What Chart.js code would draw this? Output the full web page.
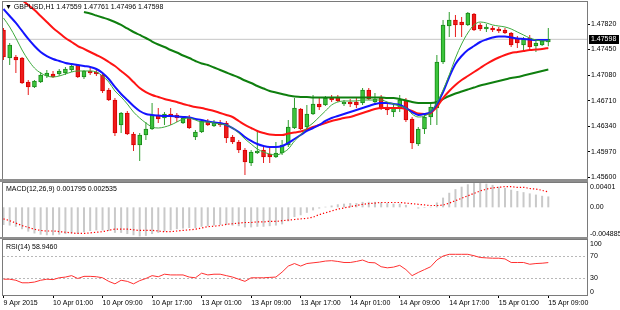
<!DOCTYPE html>
<html>
<head>
<meta charset="utf-8">
<script src="https://cdn.jsdelivr.net/npm/chart.js@4.4.1/dist/chart.umd.min.js"></script>
<style>
html,body{margin:0;padding:0;background:#fff;}
#wrap{position:relative;width:620px;height:310px;overflow:hidden;background:#fff;}
canvas{position:absolute;left:0;display:block;}
.t{position:absolute;font-family:"Liberation Sans",Arial,sans-serif;font-size:7px;line-height:8px;color:#000;white-space:nowrap;z-index:3;}
.sep{position:absolute;left:0;width:588px;background:#8e8e8e;z-index:2;}
</style>
</head>
<body>
<div id="wrap">
<canvas id="cMain" width="620" height="181" style="top:0;width:620px;height:181px"></canvas>
<canvas id="cMacd" width="620" height="56" style="top:182px;width:620px;height:56px"></canvas>
<canvas id="cRsi" width="620" height="72" style="top:238px;width:620px;height:72px"></canvas>
<div class="sep" style="top:179px;height:3px"></div>
<div class="sep" style="top:237px;height:2px"></div>
<div class="t" id="tMain" style="left:5px;top:3px"></div>
<div class="t" id="tMacd" style="left:6px;top:185px"></div>
<div class="t" id="tRsi" style="left:6px;top:243px"></div>
</div>
<script>
const symbol = "GBPUSD,H1";
const timeLabels = ["9 Apr 2015","10 Apr 01:00","10 Apr 09:00","10 Apr 17:00","13 Apr 01:00","13 Apr 09:00","13 Apr 17:00","14 Apr 01:00","14 Apr 09:00","14 Apr 17:00","15 Apr 01:00","15 Apr 09:00"];

const openP = [1.47733,1.47327,1.47342,1.47327,1.46979,1.46907,1.46979,1.47066,1.47095,1.47095,
 1.47110,1.47153,1.47226,1.47052,1.47139,1.47124,1.47081,1.46863,1.46718,1.46356,
 1.46530,1.46225,1.46066,1.46211,1.46298,1.46501,1.46457,1.46515,1.46501,1.46385,
 1.46472,1.46182,1.46254,1.46414,1.46341,1.46385,1.46385,1.46182,1.46109,1.45993,
 1.45805,1.45950,1.45993,1.45935,1.45892,1.45950,1.46066,1.46312,1.46588,1.46327,
 1.46515,1.46660,1.46646,1.46747,1.46762,1.46660,1.46689,1.46689,1.46675,1.46863,
 1.46689,1.46762,1.46617,1.46544,1.46602,1.46718,1.46443,1.46080,1.46298,1.46472,
 1.46602,1.47269,1.47791,1.47878,1.47849,1.47806,1.47965,1.47806,1.47748,1.47762,
 1.47748,1.47733,1.47690,1.47617,1.47516,1.47617,1.47501,1.47516,1.47559];
const highP = [1.47762,1.47545,1.47371,1.47342,1.47008,1.47008,1.47124,1.47153,1.47139,1.47168,
 1.47197,1.47240,1.47240,1.47153,1.47182,1.47182,1.47095,1.46892,1.46747,1.46544,
 1.46559,1.46254,1.46240,1.46399,1.46675,1.46602,1.46544,1.46602,1.46530,1.46486,
 1.46501,1.46283,1.46428,1.46443,1.46428,1.46428,1.46414,1.46211,1.46138,1.46022,
 1.45993,1.46283,1.46066,1.46037,1.46109,1.46138,1.46428,1.46747,1.46602,1.46646,
 1.46791,1.46762,1.46776,1.46791,1.46791,1.46718,1.46733,1.46747,1.46892,1.46892,
 1.46820,1.46791,1.46660,1.46660,1.46791,1.46747,1.46472,1.46327,1.46501,1.46689,
 1.47371,1.47878,1.47994,1.47951,1.47922,1.47994,1.47980,1.47835,1.47820,1.47791,
 1.47777,1.47762,1.47704,1.47646,1.47632,1.47661,1.47574,1.47603,1.47761];
const lowP = [1.47298,1.47226,1.47110,1.46950,1.46791,1.46892,1.46965,1.47037,1.47037,1.47066,
 1.47081,1.47124,1.47037,1.47023,1.47081,1.47066,1.46820,1.46704,1.46196,1.46240,
 1.46211,1.45979,1.45834,1.46138,1.46283,1.46385,1.46356,1.46356,1.46399,1.46370,
 1.46298,1.46138,1.46240,1.46341,1.46327,1.46327,1.46095,1.46080,1.45950,1.45631,
 1.45761,1.45935,1.45805,1.45805,1.45877,1.45921,1.46037,1.46298,1.46283,1.46283,
 1.46501,1.46573,1.46631,1.46689,1.46689,1.46631,1.46617,1.46602,1.46646,1.46718,
 1.46660,1.46573,1.46501,1.46472,1.46544,1.46399,1.46008,1.46051,1.46225,1.46356,
 1.46356,1.47240,1.47632,1.47632,1.47632,1.47791,1.47719,1.47719,1.47704,1.47704,
 1.47690,1.47675,1.47487,1.47472,1.47443,1.47429,1.47414,1.47501,1.47496];
const closeP = [1.47342,1.47516,1.47298,1.46965,1.46907,1.46994,1.47081,1.47110,1.47052,1.47139,
 1.47168,1.47211,1.47052,1.47139,1.47110,1.47095,1.46849,1.46718,1.46240,1.46530,
 1.46225,1.46066,1.46211,1.46298,1.46501,1.46443,1.46515,1.46486,1.46457,1.46457,
 1.46312,1.46254,1.46414,1.46356,1.46399,1.46356,1.46167,1.46109,1.45993,1.45819,
 1.45964,1.45979,1.45892,1.45892,1.45950,1.46066,1.46327,1.46602,1.46298,1.46515,
 1.46660,1.46617,1.46747,1.46718,1.46704,1.46689,1.46660,1.46646,1.46863,1.46733,
 1.46733,1.46602,1.46573,1.46602,1.46718,1.46428,1.46095,1.46298,1.46472,1.46617,
 1.47269,1.47806,1.47878,1.47806,1.47806,1.47980,1.47733,1.47748,1.47777,1.47733,
 1.47719,1.47690,1.47516,1.47545,1.47603,1.47487,1.47545,1.47574,1.47598];

const maFast = [1.47907,1.47777,1.47617,1.47443,1.47298,1.47182,1.47110,1.47066,1.47052,1.47066,
 1.47095,1.47124,1.47139,1.47139,1.47139,1.47124,1.47066,1.46979,1.46849,1.46762,
 1.46660,1.46544,1.46457,1.46385,1.46327,1.46312,1.46327,1.46356,1.46399,1.46443,
 1.46457,1.46428,1.46399,1.46399,1.46385,1.46370,1.46356,1.46312,1.46240,1.46153,
 1.46080,1.46008,1.45964,1.45935,1.45921,1.45950,1.46008,1.46124,1.46211,1.46312,
 1.46385,1.46472,1.46559,1.46646,1.46689,1.46704,1.46704,1.46704,1.46718,1.46718,
 1.46718,1.46718,1.46689,1.46660,1.46631,1.46602,1.46515,1.46472,1.46486,1.46544,
 1.46675,1.46863,1.47081,1.47327,1.47530,1.47690,1.47806,1.47849,1.47835,1.47806,
 1.47791,1.47777,1.47748,1.47704,1.47661,1.47617,1.47588,1.47574,1.47574];
const maMid = [1.48037,1.47936,1.47835,1.47719,1.47603,1.47501,1.47414,1.47356,1.47313,1.47284,
 1.47255,1.47240,1.47226,1.47211,1.47197,1.47168,1.47110,1.47023,1.46907,1.46805,
 1.46718,1.46631,1.46559,1.46515,1.46501,1.46493,1.46486,1.46486,1.46479,1.46472,
 1.46465,1.46443,1.46428,1.46406,1.46392,1.46385,1.46356,1.46312,1.46254,1.46182,
 1.46124,1.46080,1.46051,1.46037,1.46037,1.46051,1.46095,1.46153,1.46211,1.46269,
 1.46312,1.46356,1.46414,1.46457,1.46486,1.46515,1.46544,1.46573,1.46602,1.46631,
 1.46660,1.46675,1.46675,1.46660,1.46646,1.46602,1.46544,1.46501,1.46515,1.46544,
 1.46660,1.46834,1.47052,1.47240,1.47356,1.47443,1.47501,1.47559,1.47595,1.47624,
 1.47639,1.47639,1.47624,1.47610,1.47603,1.47595,1.47588,1.47588,1.47588];
const maRed = [null,null,null,1.48168,1.48096,1.48023,1.47936,1.47849,1.47762,1.47690,
 1.47617,1.47559,1.47501,1.47458,1.47414,1.47371,1.47327,1.47269,1.47211,1.47139,
 1.47066,1.46979,1.46892,1.46834,1.46791,1.46762,1.46733,1.46711,1.46689,1.46660,
 1.46638,1.46617,1.46602,1.46580,1.46559,1.46530,1.46501,1.46472,1.46414,1.46356,
 1.46312,1.46269,1.46240,1.46218,1.46211,1.46211,1.46232,1.46247,1.46261,1.46290,
 1.46327,1.46356,1.46385,1.46414,1.46435,1.46457,1.46472,1.46501,1.46530,1.46559,
 1.46588,1.46602,1.46602,1.46602,1.46602,1.46588,1.46559,1.46522,1.46515,1.46530,
 1.46617,1.46747,1.46849,1.46936,1.47008,1.47066,1.47124,1.47182,1.47240,1.47291,
 1.47334,1.47371,1.47400,1.47414,1.47429,1.47443,1.47450,1.47458,1.47472];
const maSlow = [null,null,null,null,null,null,null,null,null,null,
 null,null,null,1.47994,1.47972,1.47943,1.47914,1.47885,1.47849,1.47806,
 1.47755,1.47704,1.47661,1.47617,1.47566,1.47523,1.47487,1.47443,1.47407,1.47363,
 1.47327,1.47284,1.47247,1.47226,1.47189,1.47153,1.47117,1.47081,1.47044,1.47001,
 1.46965,1.46921,1.46885,1.46849,1.46827,1.46805,1.46783,1.46769,1.46762,1.46762,
 1.46755,1.46755,1.46755,1.46755,1.46755,1.46755,1.46755,1.46755,1.46755,1.46755,
 1.46755,1.46755,1.46747,1.46747,1.46733,1.46711,1.46689,1.46675,1.46675,1.46675,
 1.46689,1.46733,1.46776,1.46812,1.46841,1.46870,1.46899,1.46928,1.46950,1.46972,
 1.46994,1.47015,1.47037,1.47052,1.47073,1.47095,1.47117,1.47139,1.47160];

const macdMain = [-0.0029,-0.0030,-0.0032,-0.0036,-0.0040,-0.0043,-0.0045,-0.0046,-0.0046,-0.0045,
 -0.0044,-0.0043,-0.0043,-0.0041,-0.0039,-0.0038,-0.0038,-0.0039,-0.0042,-0.0042,
 -0.0044,-0.0046,-0.0048,-0.0047,-0.0044,-0.0042,-0.0040,-0.0038,-0.0036,-0.0035,
 -0.0034,-0.0034,-0.0032,-0.0031,-0.0030,-0.0029,-0.0029,-0.0030,-0.0031,-0.0033,
 -0.0033,-0.0032,-0.0032,-0.0031,-0.0030,-0.0028,-0.0023,-0.0016,-0.0013,-0.0009,
 -0.0005,-0.0002,0.0001,0.0003,0.0005,0.0006,0.0007,0.0007,0.0009,0.0009,
 0.0009,0.0008,0.0007,0.0006,0.0006,0.0004,0.0000,-0.0002,-0.0001,0.0001,
 0.0008,0.0016,0.0024,0.0030,0.0034,0.0038,0.0040,0.0040,0.0039,0.0037,
 0.0034,0.0032,0.0029,0.0027,0.0025,0.0023,0.0021,0.0019,0.001795];
const macdSignal = [-0.0019,-0.0022,-0.0026,-0.0030,-0.0033,-0.0036,-0.0038,-0.0039,-0.0039,-0.0040,
 -0.0041,-0.0042,-0.0043,-0.0043,-0.0042,-0.0041,-0.0040,-0.0038,-0.0036,-0.0036,
 -0.0036,-0.0037,-0.0038,-0.0038,-0.0038,-0.0039,-0.0040,-0.0040,-0.0039,-0.0038,
 -0.0037,-0.0036,-0.0034,-0.0032,-0.0031,-0.0030,-0.0028,-0.0027,-0.0026,-0.0025,
 -0.0025,-0.0024,-0.0024,-0.0023,-0.0023,-0.0022,-0.0021,-0.0020,-0.0019,-0.0018,
 -0.0016,-0.0012,-0.0009,-0.0006,-0.0003,-0.0001,0.0001,0.0003,0.0005,0.0006,
 0.0007,0.0008,0.0008,0.0008,0.0008,0.0007,0.0006,0.0005,0.0004,0.0003,
 0.0003,0.0004,0.0007,0.0011,0.0015,0.0019,0.0023,0.0027,0.0030,0.0032,
 0.0033,0.0034,0.0034,0.0033,0.0033,0.0031,0.0030,0.0028,0.002535];
const rsiVals = [28.7,28.7,26.8,22.2,22.2,23.5,26.8,28.7,28.0,31.3,
 32.6,35.2,30.0,33.9,33.9,33.2,31.3,24.8,20.3,26.8,
 24.8,20.3,26.1,30.0,35.2,33.2,37.8,36.5,36.5,36.5,
 32.6,31.3,39.7,36.5,37.8,37.8,35.2,32.6,28.7,24.8,
 31.3,31.3,31.3,32.0,32.6,41.6,52.6,57.2,52.6,57.2,
 58.5,59.8,61.7,62.4,61.0,59.1,59.1,61.0,63.6,59.1,
 58.5,51.4,49.4,50.7,53.9,46.2,35.2,41.0,46.2,51.4,
 63.6,70.8,74.0,74.0,74.0,74.0,71.4,68.2,67.5,66.9,
 66.9,65.6,59.1,59.1,59.1,55.9,57.2,57.8,58.946];

const priceTicks = [1.45600,1.45970,1.46340,1.46710,1.47080,1.47450,1.47820];
const macdAxis = [0.00401, 0, -0.004885];
const macdAxisLabels = ["0.00401","0.00","-0.004885"];
const rsiAxis = [100, 70, 30, 0];
const rsiLevels = [70, 30];

Chart.defaults.font.family = "'Liberation Sans', Arial, sans-serif";
Chart.defaults.font.size = 7;
Chart.defaults.color = '#000';

const N = openP.length;
const X_MIN = -0.08, X_MAX = 94.25;
const idx = openP.map((_, i) => i);
const up = idx.map(i => closeP[i] >= openP[i]);
const pts = arr => arr.map((v, i) => ({x: i, y: v}));
const FONT = "7px 'Liberation Sans', Arial, sans-serif";

const xHidden = () => ({type:'linear', min:X_MIN, max:X_MAX, offset:false, display:false, grid:{offset:false}});
const yFit = s => { s.width = 33; s.paddingTop = 0; s.paddingBottom = 0; };

const framePlugin = {id:'frame', afterDraw(c){
  const a = c.chartArea, ctx = c.ctx;
  ctx.save(); ctx.strokeStyle = '#7a7a7a'; ctx.lineWidth = 1;
  ctx.strokeRect(a.left - 0.5, a.top - 0.5, a.right - a.left + 1, a.bottom - a.top + 1);
  ctx.restore();
}};
const sideLabels = (vals, labels) => ({id:'side', afterDraw(c){
  const s = c.scales.y, a = c.chartArea, ctx = c.ctx;
  ctx.save(); ctx.font = FONT; ctx.fillStyle = '#000'; ctx.textBaseline = 'middle'; ctx.textAlign = 'left';
  vals.forEach((v, k) => {
    let y = s.getPixelForValue(v);
    y = Math.min(Math.max(y, a.top + 4), a.bottom - 3);
    ctx.fillText(labels[k], a.right + 3, y);
  });
  ctx.restore();
}});
const bidPlugin = {id:'bid', afterDraw(c){
  const s = c.scales.y, ctx = c.ctx, v = closeP[N - 1];
  const y = Math.round(s.getPixelForValue(v));
  ctx.save(); ctx.fillStyle = '#000'; ctx.fillRect(s.left + 2, y - 4, 30, 9);
  ctx.fillStyle = '#fff'; ctx.font = FONT; ctx.textBaseline = 'middle'; ctx.textAlign = 'left';
  ctx.fillText(v.toFixed(5), s.left + 4, y + 0.5);
  ctx.restore();
}};

const base = {responsive:false, animation:false, devicePixelRatio:1,
  plugins:{legend:{display:false}, tooltip:{enabled:false}}};

const lineDs = (arr, color, w, order, extra) => Object.assign({type:'line', data:pts(arr), borderColor:color,
  borderWidth:w, pointRadius:0, fill:false, cubicInterpolationMode:'monotone', order}, extra || {});

// Main price chart
new Chart(document.getElementById('cMain'), {
  type:'bar',
  data:{datasets:[
    {type:'line', data:[{x:X_MIN, y:closeP[N-1]}, {x:X_MAX, y:closeP[N-1]}], borderColor:'#c6c6c6', borderWidth:1, pointRadius:0, order:30},
    {type:'bar', data:idx.map(i => ({x:i, y:[lowP[i], highP[i]]})), backgroundColor:idx.map(i => up[i] ? '#2e9e2e' : '#e81c1c'),
      barThickness:1, grouped:false, inflateAmount:0, order:21},
    {type:'bar', data:idx.map(i => ({x:i, y:[Math.min(openP[i], closeP[i]), Math.max(openP[i], closeP[i])]})),
      backgroundColor:idx.map(i => up[i] ? '#3cc43c' : '#ee1a1a'), borderColor:idx.map(i => up[i] ? '#1a8a1a' : '#d80000'),
      borderWidth:1, borderSkipped:false, barThickness:4, grouped:false, minBarLength:1, order:20},
    lineDs(maSlow, '#0f7f0f', 2, 4),
    lineDs(maRed, '#ff1414', 2, 3),
    lineDs(maMid, '#1414ff', 2, 2),
    lineDs(maFast, '#3daa3d', 1, 1)
  ]},
  options:Object.assign({}, base, {
    layout:{padding:{left:3, right:0, top:2, bottom:2}},
    scales:{
      x:xHidden(),
      y:{position:'right', min:1.45573, max:1.48139, beginAtZero:false,
        afterBuildTicks:s => { s.ticks = priceTicks.map(v => ({value:v})); },
        afterFit:yFit,
        ticks:{autoSkip:false, padding:1, callback:v => Number(v).toFixed(5)},
        grid:{drawOnChartArea:false, tickLength:3, color:'#000'},
        border:{display:false}}
    }
  }),
  plugins:[framePlugin, bidPlugin]
});

// MACD
new Chart(document.getElementById('cMacd'), {
  type:'bar',
  data:{datasets:[
    lineDs(macdSignal, '#ff0000', 1.2, 1, {borderDash:[1.3, 2]}),
    {type:'bar', data:pts(macdMain), backgroundColor:'#c9c9c9', barThickness:2, grouped:false, inflateAmount:0, order:2}
  ]},
  options:Object.assign({}, base, {
    layout:{padding:{left:3, right:0, top:1, bottom:1}},
    scales:{
      x:xHidden(),
      y:{position:'right', min:-0.004885, max:0.00401, beginAtZero:false, afterFit:yFit,
        ticks:{display:false}, grid:{display:false}, border:{display:false}}
    }
  }),
  plugins:[framePlugin, sideLabels(macdAxis, macdAxisLabels)]
});

// RSI
new Chart(document.getElementById('cRsi'), {
  type:'bar',
  data:{datasets:[
    ...rsiLevels.map(l => ({type:'line', data:[{x:X_MIN, y:l}, {x:X_MAX, y:l}], borderColor:'#b8b8b8', borderWidth:1, borderDash:[2, 2], pointRadius:0, order:5})),
    lineDs(rsiVals, '#ff3030', 1, 1, {cubicInterpolationMode:'default', tension:0})
  ]},
  options:Object.assign({}, base, {
    layout:{padding:{left:3, right:0, top:2, bottom:0}},
    scales:{
      x:{type:'linear', min:X_MIN, max:X_MAX, offset:false, position:'bottom',
        afterBuildTicks:s => { s.ticks = timeLabels.map((_, k) => ({value:k * 8})); },
        afterFit:s => { s.height = 15; s.paddingLeft = 0; s.paddingRight = 0; },
        ticks:{autoSkip:false, maxRotation:0, minRotation:0, align:'start', padding:1,
          callback:v => timeLabels[Math.round(v / 8)]},
        grid:{drawOnChartArea:false, tickLength:3, color:'#000', offset:false},
        border:{display:false}},
      y:{position:'right', min:0, max:100, beginAtZero:false, afterFit:yFit,
        ticks:{display:false}, grid:{display:false}, border:{display:false}}
    }
  }),
  plugins:[framePlugin, sideLabels(rsiAxis, rsiAxis.map(String))]
});

document.getElementById('tMain').textContent = '\u25BC ' + symbol + ' ' +
  [openP[N-1], highP[N-1], lowP[N-1], closeP[N-1]].map(v => v.toFixed(5)).join(' ');
document.getElementById('tMacd').textContent = 'MACD(12,26,9) ' + macdMain[N-1].toFixed(6) + ' ' + macdSignal[N-1].toFixed(6);
document.getElementById('tRsi').textContent = 'RSI(14) ' + rsiVals[N-1].toFixed(4);
</script>
</body>
</html>
